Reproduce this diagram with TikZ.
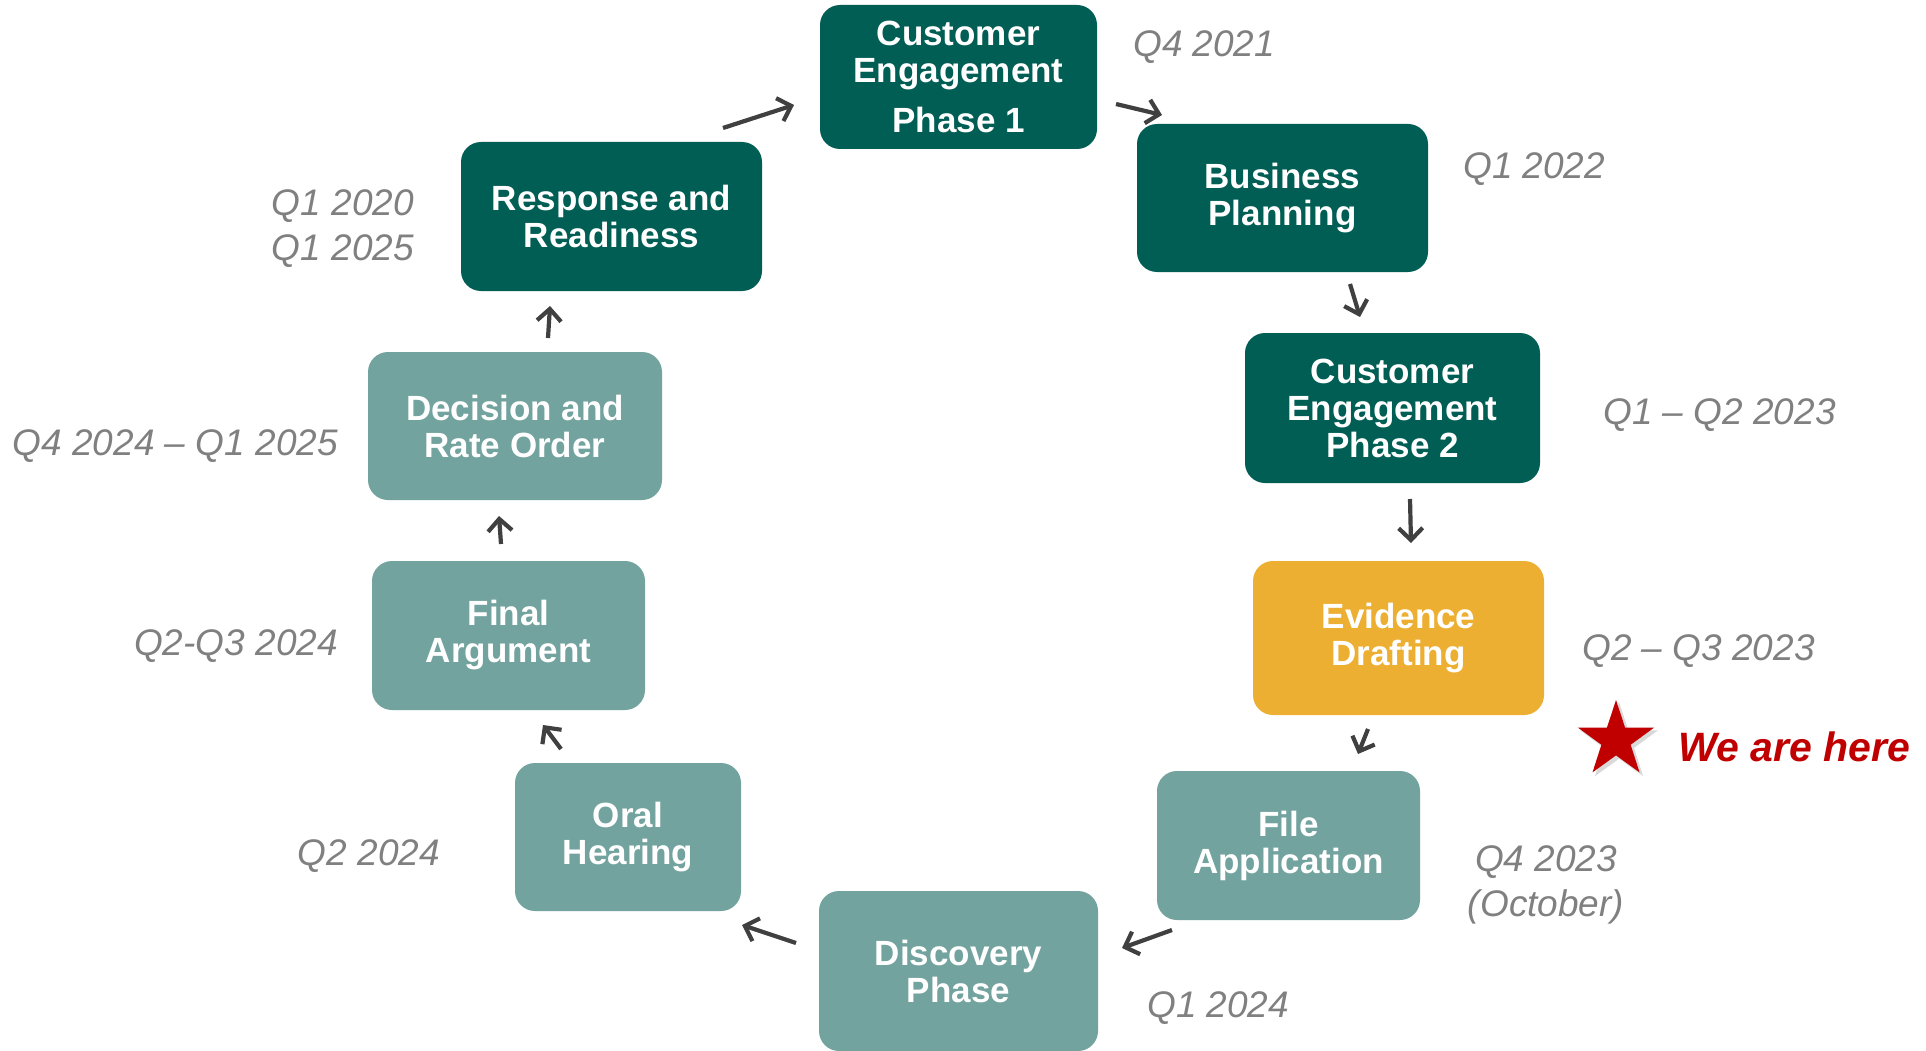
\documentclass[tikz,border=0pt]{standalone}
\usepackage{fontspec}
\setmainfont{Liberation Sans}
\usetikzlibrary{arrows.meta,shapes.geometric}
\definecolor{dkgreen}{HTML}{005E54}
\definecolor{ltteal}{HTML}{72A39E}
\definecolor{gold}{HTML}{EDAF32}
\definecolor{dategray}{HTML}{808080}
\definecolor{arrowgray}{HTML}{404040}
\definecolor{hered}{HTML}{C00000}
\begin{document}
\begin{tikzpicture}[x=1pt,y=-1pt,
  stagebox/.style={rounded corners=20pt, inner sep=0pt, text=white,
    font=\fontsize{35}{37}\selectfont\bfseries, align=center},
  dark/.style={stagebox, fill=dkgreen},
  light/.style={stagebox, fill=ltteal},
  datelbl/.style={text=dategray, font=\fontsize{37}{45}\selectfont\itshape, inner sep=0pt, align=center},
  conn/.style={draw=arrowgray, line width=4.2pt, -{Straight Barb[length=12pt,width=24pt]}}
]
\useasboundingbox (0,0) rectangle (1926,1051);
\fill[white] (0,0) rectangle (1926,1051);

% stage boxes
\node[dark, minimum width=277pt, minimum height=144pt] (ce1) at (958.5,77)
  {Customer\\Engagement\\[13pt]Phase 1};
\node[dark, minimum width=291pt, minimum height=148pt] (bp) at (1282.5,198)
  {Business\\Planning};
\node[dark, minimum width=295pt, minimum height=150pt] (ce2) at (1392.5,408)
  {Customer\\Engagement\\Phase 2};
\node[stagebox, fill=gold, minimum width=291pt, minimum height=154pt] (ed) at (1398.5,638)
  {Evidence\\Drafting};
\node[light, minimum width=263pt, minimum height=149pt] (fa) at (1288.5,845.5)
  {File\\Application};
\node[light, minimum width=279pt, minimum height=160pt] (disc) at (958.5,971)
  {Discovery\\Phase};
\node[light, minimum width=226pt, minimum height=148pt] (oral) at (628,837)
  {Oral\\Hearing};
\node[light, minimum width=273pt, minimum height=149pt] (final) at (508.5,635.5)
  {Final\\Argument};
\node[light, minimum width=294pt, minimum height=148pt] (dec) at (515,426)
  {Decision and\\Rate Order};
\node[dark, minimum width=301pt, minimum height=149pt] (resp) at (611.5,216.5)
  {Response and\\Readiness};

% date labels
\node[datelbl, anchor=west] (d1) at (1133,47) {Q4 2021};
\node[datelbl, anchor=west] (d2) at (1463,169) {Q1 2022};
\node[datelbl, anchor=west] (d3) at (1603,415) {Q1 -- Q2 2023};
\node[datelbl, anchor=west] (d4) at (1582,651) {Q2 -- Q3 2023};
\node[datelbl] (d5) at (1546,885) {Q4 2023\\(October)};
\node[datelbl, anchor=west] (d6) at (1147,1008) {Q1 2024};
\node[datelbl, anchor=east] (d7) at (440,856) {Q2 2024};
\node[datelbl, anchor=east] (d8) at (338,646) {Q2-Q3 2024};
\node[datelbl, anchor=east] (d9) at (338,446) {Q4 2024 -- Q1 2025};
\node[datelbl, anchor=east, align=right] (d10) at (414,229) {Q1 2020\\Q1 2025};

% we are here
\node[star, star points=5, star point ratio=2.6, fill=black, opacity=0.15,
  minimum size=82pt, inner sep=0pt] (starsh) at (1619,743) {};
\node[star, star points=5, star point ratio=2.6, fill=hered,
  minimum size=80pt, inner sep=0pt] (star) at (1616,740) {};
\node[anchor=west, inner sep=0pt, text=hered, font=\fontsize{41}{45}\selectfont\bfseries\itshape]
  (here) at (1678,747) {We are here};

% connector end points
\coordinate (a1s) at (723,128);  \coordinate (a1e) at (794,105);
\coordinate (a2s) at (1116,104); \coordinate (a2e) at (1162,115);
\coordinate (a3s) at (1350,284); \coordinate (a3e) at (1360,317);
\coordinate (a4s) at (1410,499); \coordinate (a4e) at (1411,543);
\coordinate (a5s) at (1368,729); \coordinate (a5e) at (1358,754);
\coordinate (a6s) at (1172,930); \coordinate (a6e) at (1122,948);
\coordinate (a7s) at (796,943);  \coordinate (a7e) at (742,925);
\coordinate (a8s) at (561,749);  \coordinate (a8e) at (543,725);
\coordinate (a9s) at (501,544);  \coordinate (a9e) at (499,516);
\coordinate (a10s) at (548,338); \coordinate (a10e) at (550,306);

\draw[conn] (a1s) -- (a1e);
\draw[conn] (a2s) -- (a2e);
\draw[conn] (a3s) -- (a3e);
\draw[conn] (a4s) -- (a4e);
\draw[conn] (a5s) -- (a5e);
\draw[conn] (a6s) -- (a6e);
\draw[conn] (a7s) -- (a7e);
\draw[conn] (a8s) -- (a8e);
\draw[conn] (a9s) -- (a9e);
\draw[conn] (a10s) -- (a10e);
\end{tikzpicture}
\end{document}
